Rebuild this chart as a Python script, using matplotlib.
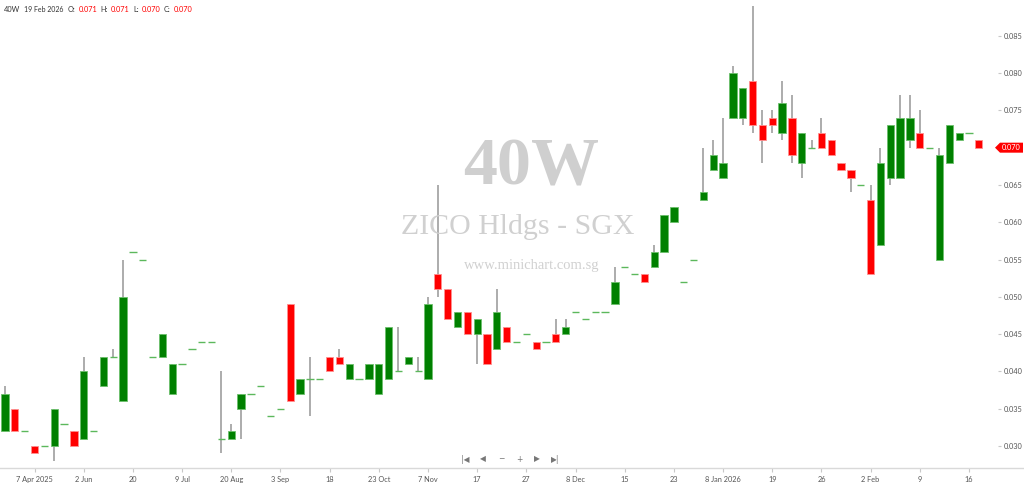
#!/usr/bin/env python3
"""
40W (ZICO Hldgs - SGX) candlestick chart, trade days only
"""

import numpy as np
import matplotlib
matplotlib.use("Agg")
import matplotlib.pyplot as plt
from matplotlib.patches import Polygon
from matplotlib.lines import Line2D


# ============================================================================
# Data (one entry per traded day)
# ============================================================================

opens = [0.032, 0.035, 0.032, 0.030, 0.030, 0.030, 0.033, 0.032, 0.031, 0.032,
         0.038, 0.042, 0.036, 0.056, 0.055, 0.042, 0.042, 0.037, 0.041, 0.043,
         0.044, 0.044, 0.031, 0.031, 0.035, 0.037, 0.038, 0.034, 0.035, 0.049,
         0.037, 0.039, 0.039, 0.042, 0.042, 0.039, 0.039, 0.039, 0.037, 0.039,
         0.040, 0.041, 0.040, 0.039, 0.053, 0.051, 0.046, 0.048, 0.045, 0.045,
         0.043, 0.046, 0.044, 0.045, 0.044, 0.044, 0.045, 0.045, 0.048, 0.047,
         0.048, 0.048, 0.049, 0.054, 0.053, 0.053, 0.054, 0.056, 0.060, 0.052,
         0.055, 0.063, 0.067, 0.066, 0.074, 0.074, 0.079, 0.073, 0.074, 0.072,
         0.074, 0.068, 0.070, 0.072, 0.071, 0.068, 0.067, 0.065, 0.063, 0.057,
         0.066, 0.066, 0.071, 0.072, 0.070, 0.055, 0.068, 0.071, 0.072, 0.071]

highs = [0.038, 0.035, 0.032, 0.030, 0.030, 0.035, 0.033, 0.032, 0.042, 0.032,
         0.042, 0.043, 0.055, 0.056, 0.055, 0.042, 0.045, 0.041, 0.041, 0.043,
         0.044, 0.044, 0.040, 0.033, 0.037, 0.037, 0.038, 0.034, 0.035, 0.049,
         0.039, 0.042, 0.039, 0.042, 0.043, 0.041, 0.039, 0.041, 0.041, 0.046,
         0.046, 0.042, 0.042, 0.050, 0.065, 0.051, 0.048, 0.048, 0.047, 0.045,
         0.051, 0.046, 0.044, 0.045, 0.044, 0.044, 0.047, 0.047, 0.048, 0.047,
         0.048, 0.048, 0.054, 0.054, 0.053, 0.053, 0.057, 0.061, 0.062, 0.052,
         0.055, 0.070, 0.071, 0.074, 0.081, 0.078, 0.089, 0.075, 0.075, 0.079,
         0.077, 0.072, 0.071, 0.074, 0.071, 0.068, 0.067, 0.065, 0.065, 0.070,
         0.073, 0.077, 0.077, 0.075, 0.070, 0.070, 0.073, 0.072, 0.072, 0.071]

lows = [0.032, 0.032, 0.032, 0.029, 0.030, 0.028, 0.033, 0.030, 0.031, 0.032,
        0.038, 0.042, 0.036, 0.056, 0.055, 0.042, 0.042, 0.037, 0.041, 0.043,
        0.044, 0.044, 0.029, 0.031, 0.031, 0.037, 0.038, 0.034, 0.035, 0.036,
        0.037, 0.034, 0.039, 0.040, 0.041, 0.039, 0.039, 0.039, 0.037, 0.039,
        0.040, 0.041, 0.040, 0.039, 0.050, 0.047, 0.046, 0.045, 0.041, 0.041,
        0.043, 0.044, 0.044, 0.045, 0.043, 0.044, 0.044, 0.045, 0.048, 0.047,
        0.048, 0.048, 0.049, 0.054, 0.053, 0.052, 0.054, 0.056, 0.060, 0.052,
        0.055, 0.063, 0.067, 0.066, 0.074, 0.073, 0.072, 0.068, 0.072, 0.071,
        0.068, 0.066, 0.070, 0.070, 0.069, 0.067, 0.064, 0.065, 0.053, 0.057,
        0.065, 0.066, 0.070, 0.070, 0.070, 0.055, 0.068, 0.071, 0.072, 0.070]

closes = [0.037, 0.032, 0.032, 0.029, 0.030, 0.035, 0.033, 0.030, 0.040, 0.032,
          0.042, 0.042, 0.050, 0.056, 0.055, 0.042, 0.045, 0.041, 0.041, 0.043,
          0.044, 0.044, 0.031, 0.032, 0.037, 0.037, 0.038, 0.034, 0.035, 0.036,
          0.039, 0.039, 0.039, 0.040, 0.041, 0.041, 0.039, 0.041, 0.041, 0.046,
          0.040, 0.042, 0.040, 0.049, 0.051, 0.047, 0.048, 0.045, 0.047, 0.041,
          0.048, 0.044, 0.044, 0.045, 0.043, 0.044, 0.044, 0.046, 0.048, 0.047,
          0.048, 0.048, 0.052, 0.054, 0.053, 0.052, 0.056, 0.061, 0.062, 0.052,
          0.055, 0.064, 0.069, 0.068, 0.080, 0.078, 0.073, 0.071, 0.073, 0.076,
          0.069, 0.072, 0.070, 0.070, 0.069, 0.067, 0.066, 0.065, 0.053, 0.068,
          0.073, 0.074, 0.074, 0.070, 0.070, 0.069, 0.073, 0.072, 0.072, 0.070]

date_label_idx = [3, 8, 13, 18, 23, 28, 33, 38, 43, 48,
                  53, 58, 63, 68, 73, 78, 83, 88, 93, 98]
date_labels = ["7 Apr 2025", "2 Jun", "20", "9 Jul", "20 Aug", "3 Sep", "18",
               "23 Oct", "7 Nov", "17", "27", "8 Dec", "15", "23", "8 Jan 2026",
               "19", "26", "2 Feb", "9", "16"]

price_ticks = [0.030, 0.035, 0.040, 0.045, 0.050, 0.055,
               0.060, 0.065, 0.070, 0.075, 0.080, 0.085]

ticker = "40W"
name = "ZICO Hldgs - SGX"
site = "www.minichart.com.sg"
last_date = "19 Feb 2026"


# ============================================================================
# Plot
# ============================================================================

W, H = 1024, 484
UP = "#008000"
DOWN = "#ff0000"
FS = 5.3
YMIN, YMAX = 0.02705, 0.0898

plt.rcParams['font.family'] = ['Lato', 'DejaVu Sans']

fig = plt.figure(figsize=(W / 100, H / 100), dpi=100)
ax = fig.add_axes([0, 16 / H, 998 / W, 468 / H])

o = np.array(opens)
h = np.array(highs)
l = np.array(lows)
c = np.array(closes)
x = np.arange(len(o))

# wicks
has_wick = h > l
ax.vlines(x[has_wick], l[has_wick], h[has_wick], color="#a6a6a6", lw=1.3, zorder=1)

# bodies
up = c > o
down = c < o
flat = c == o
ax.bar(x[up], c[up] - o[up], bottom=o[up], width=0.74, color=UP,
       edgecolor="#6cbf6c", linewidth=0.6, zorder=2)
ax.bar(x[down], o[down] - c[down], bottom=c[down], width=0.74, color=DOWN,
       edgecolor="#ff9090", linewidth=0.6, zorder=2)
ax.hlines(c[flat], x[flat] - 0.37, x[flat] + 0.37, color="#5cb85c", lw=1.0, zorder=2)

ax.set_xlim(-0.51, 100.95)
ax.set_ylim(YMIN, YMAX)

for s in ["top", "left", "right", "bottom"]:
    ax.spines[s].set_visible(False)
fig.add_artist(Line2D([0, 1], [16 / H, 16 / H], color="#d9d9d9", lw=1.0))

ax.set_xticks(date_label_idx)
ax.set_xticklabels(date_labels)
ax.tick_params(axis="x", length=3, color="#c8c8c8", labelsize=FS,
               labelcolor="#555555", pad=2.5)

ax.yaxis.tick_right()
ax.set_yticks(price_ticks)
ax.set_yticklabels([f"{p:.3f}" for p in price_ticks])
ax.tick_params(axis="y", length=2.5, color="#c8c8c8", labelsize=FS,
               labelcolor="#555555", pad=1.5)

# watermark
fig.text(531 / W, 1 - 168 / H, ticker, ha="center", va="center",
         fontsize=49, color="#cfcfcf", family="Liberation Serif", weight="bold", zorder=0)
fig.text(518 / W, 1 - 227 / H, name, ha="center", va="center",
         fontsize=21.5, color="#d0d0d0", family="Liberation Serif", zorder=0)
fig.text(532 / W, 1 - 265 / H, site, ha="center", va="center",
         fontsize=10.5, color="#d0d0d0", family="Liberation Serif", zorder=0)

# last price tag
last = closes[-1]
ty = 16 + (last - YMIN) / (YMAX - YMIN) * 468
tag = Polygon([[995 / W, ty / H], [1000 / W, (ty + 5) / H], [1023 / W, (ty + 5) / H],
               [1023 / W, (ty - 5) / H], [1000 / W, (ty - 5) / H]],
              closed=True, transform=fig.transFigure, facecolor=DOWN, edgecolor="none",
              zorder=5)
fig.add_artist(tag)
fig.text(1011.5 / W, ty / H, f"{last:.3f}", ha="center", va="center",
         fontsize=FS, color="white", zorder=6)

# header line
hy = 1 - 9.5 / H
fig.text(4 / W, hy, ticker, fontsize=FS, color="#333333", va="center")
fig.text(24 / W, hy, last_date, fontsize=5.0, color="#333333", va="center")
for lab, val, lx, vx in [("O:", opens[-1], 68, 79), ("H:", highs[-1], 100, 111),
                         ("L:", lows[-1], 133, 142), ("C:", closes[-1], 164, 174)]:
    fig.text(lx / W, hy, lab, fontsize=FS, color="#333333", va="center")
    fig.text(vx / W, hy, f"{val:.3f}", fontsize=FS, color=DOWN, va="center")

# navigation buttons
ny = 1 - 459 / H
for sym, nx in [("|◀", 465), ("◀", 483), ("−", 501), ("+", 519), ("▶", 537), ("▶|", 555)]:
    fig.text(nx / W, ny, sym, ha="center", va="center", fontsize=5.5,
             color="#777777", family="DejaVu Sans")

fig.savefig("out.png", dpi=100)
